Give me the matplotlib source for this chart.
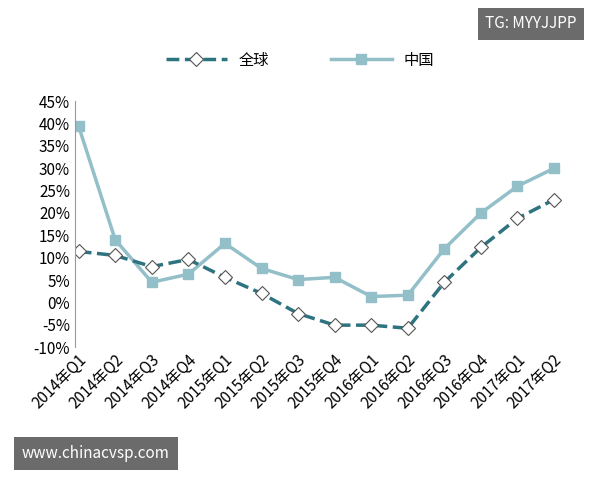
import matplotlib.pyplot as plt
import numpy as np

plt.rcParams['font.family'] = ['Noto Sans CJK SC', 'DejaVu Sans']

quarters = ['2014年Q1', '2014年Q2', '2014年Q3', '2014年Q4', '2015年Q1', '2015年Q2', '2015年Q3',
            '2015年Q4', '2016年Q1', '2016年Q2', '2016年Q3', '2016年Q4', '2017年Q1', '2017年Q2']
global_vals = [11.4, 10.5, 8.0, 9.6, 5.6, 2.0, -2.5, -5.1, -5.1, -5.8, 4.5, 12.3, 18.8, 23.0]
china_vals = [39.4, 14.0, 4.5, 6.3, 13.2, 7.6, 5.1, 5.6, 1.3, 1.6, 12.0, 20.0, 26.0, 30.0]

fig = plt.figure(figsize=(6, 4.8), dpi=100)
ax = fig.add_axes([0.125, 0.277, 0.835, 0.512])
x = np.arange(len(quarters))
ax.plot(x, china_vals, color='#93bfc9', lw=2.5, marker='s', ms=7, label='中国')
ax.plot(x, global_vals, color='#2e7380', lw=2.5, ls='--', marker='D', ms=7,
        mfc='white', mec='#555555', mew=0.8, label='全球')
ax.set_xlim(-0.1, 13.6)
ax.set_ylim(-10, 45)
ax.set_yticks(range(-10, 46, 5))
ax.set_yticklabels([f'{v}%' for v in range(-10, 46, 5)], fontsize=11)
ax.set_xticks(x)
ax.set_xticklabels(quarters, rotation=45, ha='right', rotation_mode='anchor', fontsize=11)
for s in ['top', 'right', 'bottom']:
    ax.spines[s].set_visible(False)
ax.spines['left'].set_color('#999999')
ax.tick_params(length=0)
h, l = ax.get_legend_handles_labels()
fig.legend(h[::-1], l[::-1], loc='center', bbox_to_anchor=(0.5, 0.875), ncol=2, frameon=False,
           fontsize=11, handlelength=4, columnspacing=4)

fig.text(0.885, 0.95, 'TG: MYYJJPP', color='white', fontsize=11, ha='center', va='center',
         bbox=dict(boxstyle='square,pad=0.5', fc='#6b6b6b', ec='none'))
fig.text(0.16, 0.055, 'www.chinacvsp.com', color='white', fontsize=11, ha='center', va='center',
         bbox=dict(boxstyle='square,pad=0.5', fc='#6b6b6b', ec='none'))
fig.savefig('out.png')
